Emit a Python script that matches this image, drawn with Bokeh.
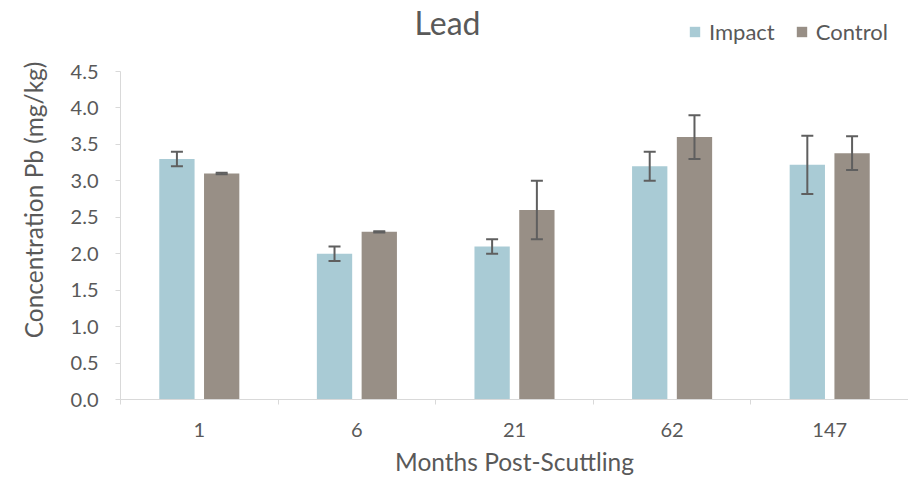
from bokeh.plotting import figure
from bokeh.models import (ColumnDataSource, FactorRange, Range1d, LinearAxis, CategoricalAxis,
                          FixedTicker, Whisker, TeeHead, Legend, LegendItem, Label, NumeralTickFormatter)
from bokeh.transform import dodge
from bokeh.embed import file_html
from bokeh.resources import INLINE

months = ["1", "6", "21", "62", "147"]
impact = [3.3, 2.0, 2.1, 3.2, 3.22]
impact_err = [0.1, 0.1, 0.1, 0.2, 0.4]
control = [3.1, 2.3, 2.6, 3.6, 3.38]
control_err = [0.01, 0.01, 0.4, 0.3, 0.23]
y_ticks = [0.0, 0.5, 1.0, 1.5, 2.0, 2.5, 3.0, 3.5, 4.0, 4.5]
Y_MAX = 4.5

FONT = "Lato"
TXT = "#595959"
AX = "#d9d9d9"
C_IMP = "#a9cbd5"
C_CON = "#988f86"
ERR = "#5f5f5f"

W_FIG, H_FIG = 908, 481
BORDER_L, BORDER_B = 120, 82
TOP_PAD = 71  # pixels between the top of the frame and the 4.5 tick
frame_h = H_FIG - BORDER_B
y_end = Y_MAX * frame_h / (frame_h - TOP_PAD)

src = ColumnDataSource(dict(
    months=months, impact=impact, control=control,
    imp_up=[m + e for m, e in zip(impact, impact_err)],
    imp_lo=[m - e for m, e in zip(impact, impact_err)],
    con_up=[m + e for m, e in zip(control, control_err)],
    con_lo=[m - e for m, e in zip(control, control_err)],
))

p = figure(x_range=FactorRange(*months), y_range=Range1d(0, y_end),
           width=W_FIG, height=H_FIG, output_backend="svg", toolbar_location=None,
           x_axis_location=None, y_axis_location=None,
           min_border_left=BORDER_L, min_border_right=0, min_border_top=0, min_border_bottom=BORDER_B)
p.outline_line_color = None
p.xgrid.grid_line_color = None
p.ygrid.grid_line_color = None
p.background_fill_color = "white"
p.border_fill_color = "white"

OFF = 0.142
W = 0.224
r_imp = p.vbar(x=dodge("months", -OFF, range=p.x_range), top="impact", width=W, source=src,
               fill_color=C_IMP, line_color=None)
r_con = p.vbar(x=dodge("months", OFF, range=p.x_range), top="control", width=W, source=src,
               fill_color=C_CON, line_color=None)

for base_off, up, lo in [(-OFF, "imp_up", "imp_lo"), (OFF, "con_up", "con_lo")]:
    w = Whisker(source=src, base=dodge("months", base_off, range=p.x_range), upper=up, lower=lo,
                dimension="height", line_color=ERR, line_width=2, level="annotation",
                upper_head=TeeHead(size=12, line_color=ERR, line_width=2),
                lower_head=TeeHead(size=12, line_color=ERR, line_width=2))
    p.add_layout(w)

# y axis
yaxis = LinearAxis(ticker=FixedTicker(ticks=y_ticks), formatter=NumeralTickFormatter(format="0.0"),
                   axis_label="Concentration Pb (mg/kg)", bounds=(0, Y_MAX))
yaxis.axis_line_color = AX
yaxis.major_tick_line_color = AX
yaxis.major_tick_in = 0
yaxis.major_tick_out = 5
yaxis.minor_tick_line_color = None
yaxis.major_label_standoff = 17
yaxis.major_label_text_font = FONT
yaxis.major_label_text_font_size = "20px"
yaxis.major_label_text_color = TXT
yaxis.axis_label_text_font = FONT
yaxis.axis_label_text_font_size = "24.5px"
yaxis.axis_label_text_font_style = "normal"
yaxis.axis_label_text_color = TXT
yaxis.axis_label_standoff = 20
p.add_layout(yaxis, "left")

# x axis: tick marks at category boundaries (synthetic coordinates of the factor range)
edge_axis = LinearAxis(ticker=FixedTicker(ticks=list(range(len(months) + 1))))
edge_axis.axis_line_color = AX
edge_axis.major_tick_line_color = AX
edge_axis.major_tick_in = 0
edge_axis.major_tick_out = 5
edge_axis.minor_tick_line_color = None
edge_axis.major_label_text_font_size = "0px"
edge_axis.major_label_text_alpha = 0
edge_axis.major_label_standoff = 0
p.add_layout(edge_axis, "below")

xaxis = CategoricalAxis(axis_label="Months Post-Scuttling")
xaxis.axis_line_color = None
xaxis.major_tick_line_color = None
xaxis.major_tick_in = 0
xaxis.major_tick_out = 0
xaxis.minor_tick_line_color = None
xaxis.major_label_standoff = 18
xaxis.major_label_text_font = FONT
xaxis.major_label_text_font_size = "20px"
xaxis.major_label_text_color = TXT
xaxis.axis_label_text_font = FONT
xaxis.axis_label_text_font_size = "24.5px"
xaxis.axis_label_text_font_style = "normal"
xaxis.axis_label_text_color = TXT
xaxis.axis_label_standoff = 7
p.add_layout(xaxis, "below")

# title (inside the frame's top padding)
title = Label(x=327, y=frame_h - 22, x_units="screen", y_units="screen", text="Lead",
              text_align="center", text_baseline="middle", text_font=FONT,
              text_font_size="32px", text_color=TXT)
p.add_layout(title)

legend = Legend(items=[LegendItem(label="Impact", renderers=[r_imp]),
                       LegendItem(label="Control", renderers=[r_con])],
                orientation="horizontal", location=(568, frame_h - 45))
legend.label_text_font = FONT
legend.label_text_font_size = "22px"
legend.label_text_color = TXT
legend.glyph_width = 13
legend.glyph_height = 13
legend.label_standoff = 8
legend.spacing = 20
legend.padding = 0
legend.margin = 0
legend.border_line_color = None
legend.background_fill_alpha = 0
p.add_layout(legend, "center")

open("out.html", "w").write(file_html(p, INLINE))
